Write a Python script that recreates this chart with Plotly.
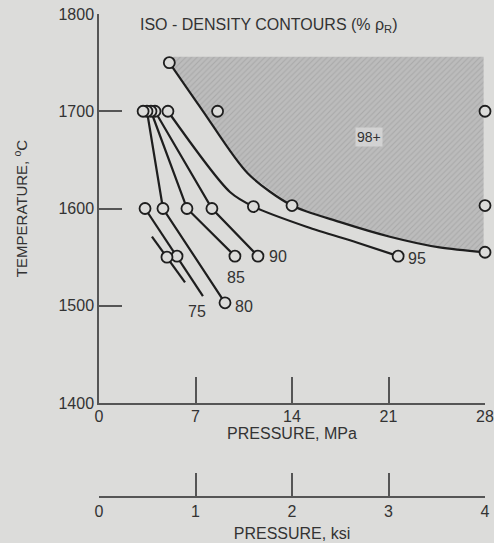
import plotly.graph_objects as go

BG = "#dcdcda"
INK = "#1e1e1e"
TXT = "#333333"
FONT = "Liberation Sans, Arial, sans-serif"

# ---- data (pressure MPa, temperature degC) ----
c98_x = [5.1, 7.5, 10.8, 14.0, 17.5, 21.1, 24.7, 28.0]
c98_y = [1750, 1701, 1636, 1603, 1586, 1571, 1560, 1555]
c98_pts_x = [5.1, 14.0, 28.0]
c98_pts_y = [1750, 1603, 1555]

c95_x = [5.0, 9.5, 11.2, 15.1, 18.7, 21.7]
c95_y = [1700, 1617, 1602, 1581, 1565, 1551]
c95_pts_x = [5.0, 11.2, 21.7]
c95_pts_y = [1700, 1602, 1551]

c90_x = [4.06, 8.19, 11.53]
c90_y = [1700, 1600, 1551]

c85_x = [3.77, 6.38, 9.86]
c85_y = [1700, 1600, 1551]

c80_x = [3.48, 4.64, 9.14]
c80_y = [1700, 1600, 1503]

c75_x = [3.34, 5.66, 7.54]
c75_y = [1600, 1551, 1510]
c75_pts_x = [3.34, 5.66]
c75_pts_y = [1600, 1551]

short_x = [3.84, 6.24]
short_y = [1571, 1524]
short_pts_x = [4.93]
short_pts_y = [1550]

extra_x = [3.2, 8.6, 28.0, 28.0]
extra_y = [1700, 1700, 1700, 1603]

shade_top = 1756
shade_right = 27.9

labels = ["75", "80", "85", "90", "95", "98+"]
label_x = [7.1, 10.5, 9.93, 12.95, 23.1, 19.6]
label_y = [1494, 1499, 1529, 1551, 1549, 1674]

mpa_ticks = [0, 7, 14, 21, 28]
ksi_ticks = [0, 1, 2, 3, 4]
temp_ticks = [1400, 1500, 1600, 1700, 1800]

fig = go.Figure()

# shaded 98+ region
poly_x = [c98_x[0] + 0.3, shade_right, shade_right] + c98_x[::-1]
poly_y = [shade_top, shade_top, c98_y[-1]] + c98_y[::-1]
fig.add_trace(go.Scatter(
    x=poly_x, y=poly_y, mode="lines", line=dict(width=0),
    fill="toself", fillcolor="#b2b2b2",
    fillpattern=dict(shape="/", bgcolor="#bcbcbc", fgcolor="#959595",
                     size=4, solidity=0.25),
    hoverinfo="skip", showlegend=False))

line_style = dict(color=INK, width=2.2)
for xs, ys, shape in [(c98_x, c98_y, "spline"), (c95_x, c95_y, "spline"),
                      (c90_x, c90_y, "linear"), (c85_x, c85_y, "linear"),
                      (c80_x, c80_y, "linear"), (c75_x, c75_y, "linear"),
                      (short_x, short_y, "linear")]:
    fig.add_trace(go.Scatter(x=xs, y=ys, mode="lines",
                             line=dict(shape=shape, smoothing=0.8, **line_style),
                             hoverinfo="skip", showlegend=False, cliponaxis=False))

mk = dict(symbol="circle", size=11, color=BG, line=dict(color=INK, width=1.8))
all_px = c98_pts_x + c95_pts_x + c90_x + c85_x + c80_x + c75_pts_x + short_pts_x + extra_x
all_py = c98_pts_y + c95_pts_y + c90_y + c85_y + c80_y + c75_pts_y + short_pts_y + extra_y
fig.add_trace(go.Scatter(x=all_px, y=all_py, mode="markers", marker=mk,
                         showlegend=False, cliponaxis=False))

# invisible trace for ksi axis
fig.add_trace(go.Scatter(x=[0, 4], y=[1400, 1400], xaxis="x2", mode="markers",
                         marker=dict(opacity=0), hoverinfo="skip", showlegend=False))

for t, x, y in zip(labels, label_x, label_y):
    fig.add_annotation(x=x, y=y, text=t, showarrow=False,
                       font=dict(family=FONT, size=16 if t != "98+" else 14, color=TXT),
                       bgcolor="#d2d2d2" if t == "98+" else None)

fig.add_annotation(xref="paper", yref="paper", x=0.1, y=1.0, xanchor="left",
                   yanchor="top",
                   text="ISO - DENSITY CONTOURS (% ρ<sub>R</sub>)",
                   showarrow=False, font=dict(family=FONT, size=16, color=TXT))

W, H = 494, 543
plot_top, plot_bot, ksi_line = 14, 403, 497
dom_low = (ksi_line - plot_bot) / (ksi_line - plot_top)

fig.update_layout(
    width=W, height=H,
    margin=dict(l=99, r=9, t=plot_top, b=H - ksi_line, autoexpand=False),
    paper_bgcolor=BG, plot_bgcolor=BG,
    font=dict(family=FONT, color=TXT),
    xaxis=dict(range=[0, 28], tickvals=mpa_ticks, ticktext=[str(v) for v in mpa_ticks],
               ticks="inside", ticklen=26, tickwidth=1.5, tickcolor="#555",
               showline=True, linecolor="#555", linewidth=1.5, showgrid=False,
               zeroline=False, tickfont=dict(size=16, color=TXT),
               ticklabeloverflow="allow", automargin=False, ticklabelstandoff=-2,
               title=dict(text="PRESSURE, MPa", standoff=0,
                          font=dict(size=16, color=TXT)),
               anchor="y"),
    xaxis2=dict(range=[0, 4], tickvals=ksi_ticks, ticks="inside", ticklen=23,
                tickwidth=1.5, tickcolor="#555", showline=True, linecolor="#555",
                linewidth=1.5, showgrid=False, zeroline=False,
                anchor="free", position=0, overlaying="x", side="bottom",
                tickfont=dict(size=16, color=TXT), ticklabeloverflow="allow",
                automargin=False,
                title=dict(text="PRESSURE, ksi", standoff=8,
                           font=dict(size=16, color=TXT))),
    yaxis=dict(range=[1400, 1800], domain=[dom_low, 1], tickvals=temp_ticks,
               ticks="inside", ticklen=23, tickwidth=1.5, tickcolor="#555",
               showline=True, linecolor="#555", linewidth=1.5, showgrid=False,
               zeroline=False, tickfont=dict(size=16, color=TXT),
               ticklabeloverflow="allow", automargin=False,
               title=dict(text="TEMPERATURE, <sup>o</sup>C", standoff=27,
                          font=dict(size=15, color=TXT))),
)

# remove the browser's default 8px body margin so the figure fills the window exactly
fig.write_html("out.html",
               config={"displayModeBar": False},
               post_script="document.body.style.margin='0';"
                           "document.body.style.overflow='hidden';")
